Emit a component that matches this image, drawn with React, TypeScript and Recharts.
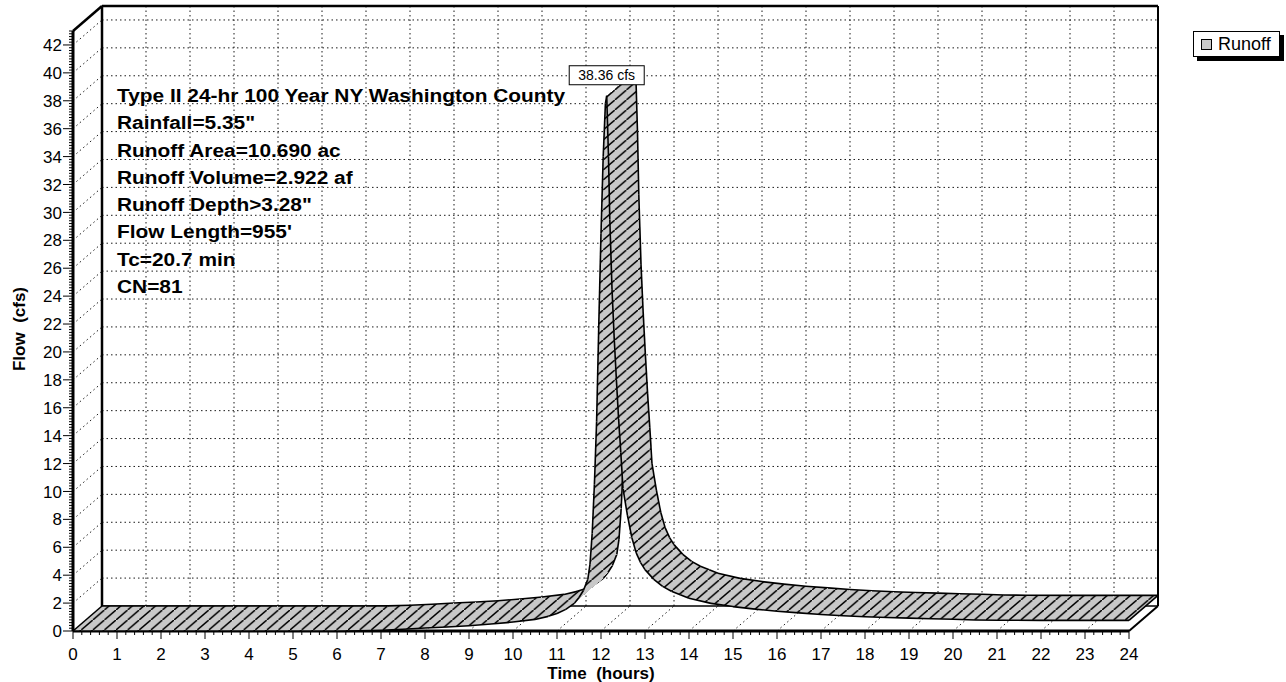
import React from "react";
import {
  ComposedChart,
  Customized,
  Legend,
  Line,
  ReferenceLine,
  XAxis,
  YAxis,
} from "recharts";

// hydrograph: time (hours) / flow (cfs)
const hours = [
  0, 1, 2, 3, 4, 5, 6, 6.5, 7, 7.5, 8, 8.5, 9, 9.5, 10, 10.5, 10.8, 11, 11.2,
  11.4, 11.5, 11.6, 11.7, 11.75, 11.8, 11.85, 11.9, 11.95, 12, 12.05, 12.1,
  12.13, 12.17, 12.2, 12.25, 12.3, 12.35, 12.4, 12.45, 12.5, 12.6, 12.7, 12.8,
  12.9, 13, 13.2, 13.4, 13.6, 13.8, 14, 14.5, 15, 15.5, 16, 16.5, 17, 17.5, 18,
  18.5, 19, 19.5, 20, 20.5, 21, 22, 23, 24,
];
const flows = [
  0, 0, 0, 0, 0, 0, 0, 0.01, 0.05, 0.13, 0.21, 0.29, 0.38, 0.5, 0.64, 0.83,
  1.05, 1.25, 1.55, 2.0, 2.4, 2.9, 3.7, 4.8, 7.0, 10.5, 15.0, 22.0, 28.5, 34.0,
  37.8, 38.36, 34.0, 29.5, 24.5, 21.0, 18.0, 15.2, 12.8, 10.2, 8.3, 6.7, 5.6,
  4.9, 4.4, 3.7, 3.2, 2.85, 2.6, 2.35, 1.98, 1.75, 1.57, 1.42, 1.3, 1.18, 1.09,
  1.02, 0.97, 0.92, 0.88, 0.84, 0.79, 0.77, 0.76, 0.76, 0.76,
];

const hourTicks = Array.from({ length: 25 }, (_, i) => i);
const flowTicks = Array.from({ length: 22 }, (_, i) => i * 2);
const hourMinorTicks = Array.from({ length: 121 }, (_, i) => i / 5);
const flowMinorTicks = Array.from({ length: 216 }, (_, i) => i / 5);

const notes = [
  "Type II 24-hr 100 Year NY Washington County",
  'Rainfall=5.35"',
  "Runoff Area=10.690 ac",
  "Runoff Volume=2.922 af",
  'Runoff Depth>3.28"',
  "Flow Length=955'",
  "Tc=20.7 min",
  "CN=81",
];
const seriesName = "Runoff";
const peakText = "38.36 cfs";

const W = 1286;
const H = 682;
const FONT = "Arial, 'Liberation Sans', Helvetica, sans-serif";
const X_MAX = 24;
const Y_MAX = 43;
const MARGIN = { top: 31, left: 13, right: 157, bottom: 11 };
const Y_AXIS_W = 60;
const X_AXIS_H = 40;
// 3D depth of the box, in pixels, and the same in axis units
const DEPTH_X = 29;
const DEPTH_Y = 25;
const PLOT_W = W - MARGIN.left - MARGIN.right - Y_AXIS_W;
const PLOT_H = H - MARGIN.top - MARGIN.bottom - X_AXIS_H;
const DT = (DEPTH_X * X_MAX) / PLOT_W;
const DV = (DEPTH_Y * Y_MAX) / PLOT_H;

const rows = hours.map((t, i) => ({ time: t, flow: flows[i] }));
const peakIndex = flows.indexOf(Math.max(...flows));

function FlowTick(props: any) {
  const { x, y, payload } = props;
  const v = payload.value as number;
  const r = Math.round(v);
  const major = Math.abs(v - r) < 1e-6 && r % 2 === 0;
  return (
    <g>
      <line x1={x - (major ? 10 : 4)} x2={x} y1={y} y2={y} stroke="#000" strokeWidth={1} />
      {major && (
        <text x={x - 11} y={y} dy="0.36em" textAnchor="end" fontFamily={FONT} fontSize={17} fill="#000">
          {r}
        </text>
      )}
    </g>
  );
}

function HourTick(props: any) {
  const { x, y, payload } = props;
  const v = payload.value as number;
  const r = Math.round(v);
  const major = Math.abs(v - r) < 1e-6;
  return (
    <g>
      <line x1={x} x2={x} y1={y} y2={y + (major ? 8 : 4)} stroke="#000" strokeWidth={1} />
      {major && (
        <text x={x} y={y + 29} textAnchor="middle" fontFamily={FONT} fontSize={17} fill="#000">
          {r}
        </text>
      )}
    </g>
  );
}

let ribbonPts: { x: number; y: number }[] = [];

// draws the extruded runoff band once all points of the line are known
function RibbonDot(props: any) {
  const { cx, cy, index, points } = props;
  if (index === 0) ribbonPts = [];
  ribbonPts[index] = { x: cx, y: cy };
  if (index !== rows.length - 1) return <g key={`pt-${index}`} />;

  const pts =
    Array.isArray(points) && points.length === rows.length
      ? points.map((p: any) => ({ x: p.x, y: p.y }))
      : ribbonPts.slice();
  const back = (p: { x: number; y: number }) => ({ x: p.x + DEPTH_X, y: p.y - DEPTH_Y });

  const segs = [];
  for (let i = 0; i < pts.length - 1; i++) {
    const a = pts[i];
    const b = pts[i + 1];
    const a2 = back(a);
    const b2 = back(b);
    segs.push(
      <g key={i}>
        <polygon
          points={`${a.x},${a.y} ${b.x},${b.y} ${b2.x},${b2.y} ${a2.x},${a2.y}`}
          fill="url(#runoff-hatch)"
          shapeRendering="crispEdges"
        />
        <line x1={a2.x} y1={a2.y} x2={b2.x} y2={b2.y} stroke="#000" strokeWidth={1.6} />
        <line x1={a.x} y1={a.y} x2={b.x} y2={b.y} stroke="#000" strokeWidth={1.6} />
      </g>
    );
  }
  const first = pts[0];
  const last = pts[pts.length - 1];
  const peak = pts[peakIndex];

  return (
    <g key="ribbon">
      <defs>
        <pattern id="runoff-hatch" patternUnits="userSpaceOnUse" width={11.6} height={10}>
          <rect width={11.6} height={10} fill="#c8c8c8" />
          <path d="M-1,10.862 L12.6,-0.862" stroke="#000" strokeWidth={1.5} />
        </pattern>
      </defs>
      {segs}
      <line x1={first.x} y1={first.y} x2={back(first).x} y2={back(first).y} stroke="#000" strokeWidth={1.6} />
      <line x1={last.x} y1={last.y} x2={back(last).x} y2={back(last).y} stroke="#000" strokeWidth={1.6} />
      <rect x={peak.x - 37.5} y={peak.y - 30} width={75} height={19} fill="#fff" stroke="#000" strokeWidth={1} />
      <text x={peak.x} y={peak.y - 15.5} textAnchor="middle" fontFamily={FONT} fontSize={14} fill="#000">
        {peakText}
      </text>
    </g>
  );
}

function LegendBox() {
  return (
    <div
      style={{
        display: "inline-flex",
        alignItems: "center",
        background: "#fff",
        border: "1px solid #000",
        boxShadow: "4px 4px 0 #000",
        padding: "1px 8px 1px 7px",
        fontFamily: FONT,
        fontSize: 18,
        lineHeight: "22px",
        color: "#000",
        whiteSpace: "nowrap",
      }}
    >
      <span
        style={{
          display: "inline-block",
          width: 9,
          height: 9,
          border: "1px solid #000",
          background: "#c8c8c8",
          marginRight: 6,
        }}
      />
      {seriesName}
    </div>
  );
}

function Annotations() {
  return (
    <g fontFamily={FONT} fill="#000">
      <g transform="translate(117 0) scale(1.16 1)">
        {notes.map((n, i) => (
          <text key={n} x={0} y={102 + i * 27.3} fontSize={18} fontWeight="bold">
            {n}
          </text>
        ))}
      </g>
      <text x={601} y={679} textAnchor="middle" fontSize={17} fontWeight="bold" style={{ whiteSpace: "pre" }}>
        {"Time  (hours)"}
      </text>
      <text transform="translate(25 329) rotate(-90)" textAnchor="middle" fontSize={17} fontWeight="bold" style={{ whiteSpace: "pre" }}>
        {"Flow  (cfs)"}
      </text>
    </g>
  );
}

const dotted = { stroke: "#1a1a1a", strokeDasharray: "1.5 3", strokeWidth: 1, ifOverflow: "visible" as const };
const solid = (w: number) => ({ stroke: "#000", strokeWidth: w, ifOverflow: "visible" as const });

export default function App() {
  return (
    <div style={{ position: "absolute", left: 0, top: 0, width: W, height: H, background: "#fff" }}>
      <ComposedChart width={W} height={H} data={rows} margin={MARGIN}>
        <XAxis
          dataKey="time"
          type="number"
          domain={[0, X_MAX]}
          ticks={hourMinorTicks}
          interval={0}
          height={X_AXIS_H}
          tickSize={0}
          tickMargin={0}
          tickLine={false}
          tick={<HourTick />}
          axisLine={{ stroke: "#000", strokeWidth: 3 }}
        />
        <YAxis
          type="number"
          domain={[0, Y_MAX]}
          ticks={flowMinorTicks}
          interval={0}
          width={Y_AXIS_W}
          tickSize={0}
          tickMargin={0}
          tickLine={false}
          tick={<FlowTick />}
          axisLine={{ stroke: "#000", strokeWidth: 3 }}
        />

        {/* back wall grid */}
        {flowTicks.slice(1).map((v) => (
          <ReferenceLine key={`bh${v}`} segment={[{ x: DT, y: v + DV }, { x: X_MAX + DT, y: v + DV }]} {...dotted} />
        ))}
        {hourTicks.slice(1, -1).map((h) => (
          <ReferenceLine key={`bv${h}`} segment={[{ x: h + DT, y: DV }, { x: h + DT, y: Y_MAX + DV }]} {...dotted} />
        ))}
        {/* floor and side wall depth lines */}
        {hourTicks.slice(1, -1).map((h) => (
          <ReferenceLine key={`fd${h}`} segment={[{ x: h, y: 0 }, { x: h + DT, y: DV }]} {...dotted} />
        ))}
        {flowTicks.slice(1).map((v) => (
          <ReferenceLine key={`sd${v}`} segment={[{ x: 0, y: v }, { x: DT, y: v + DV }]} {...dotted} />
        ))}
        {/* box edges */}
        <ReferenceLine segment={[{ x: DT, y: DV }, { x: X_MAX + DT, y: DV }]} {...solid(1.5)} />
        <ReferenceLine segment={[{ x: DT, y: DV }, { x: DT, y: Y_MAX + DV }]} {...solid(2.5)} />
        <ReferenceLine segment={[{ x: DT, y: Y_MAX + DV }, { x: X_MAX + DT, y: Y_MAX + DV }]} {...solid(2.5)} />
        <ReferenceLine segment={[{ x: X_MAX + DT, y: DV }, { x: X_MAX + DT, y: Y_MAX + DV }]} {...solid(2)} />
        <ReferenceLine segment={[{ x: 0, y: Y_MAX }, { x: DT, y: Y_MAX + DV }]} {...solid(2.5)} />
        <ReferenceLine segment={[{ x: X_MAX, y: 0 }, { x: X_MAX + DT, y: DV }]} {...solid(2)} />

        <Line
          dataKey="flow"
          name={seriesName}
          stroke="none"
          dot={RibbonDot}
          activeDot={false}
          isAnimationActive={false}
        />
        <Customized component={Annotations} />
        <Legend
          layout="horizontal"
          verticalAlign="middle"
          align="center"
          wrapperStyle={{ left: 1193, top: 31, width: "auto", height: "auto" }}
          content={LegendBox}
        />
      </ComposedChart>
    </div>
  );
}
